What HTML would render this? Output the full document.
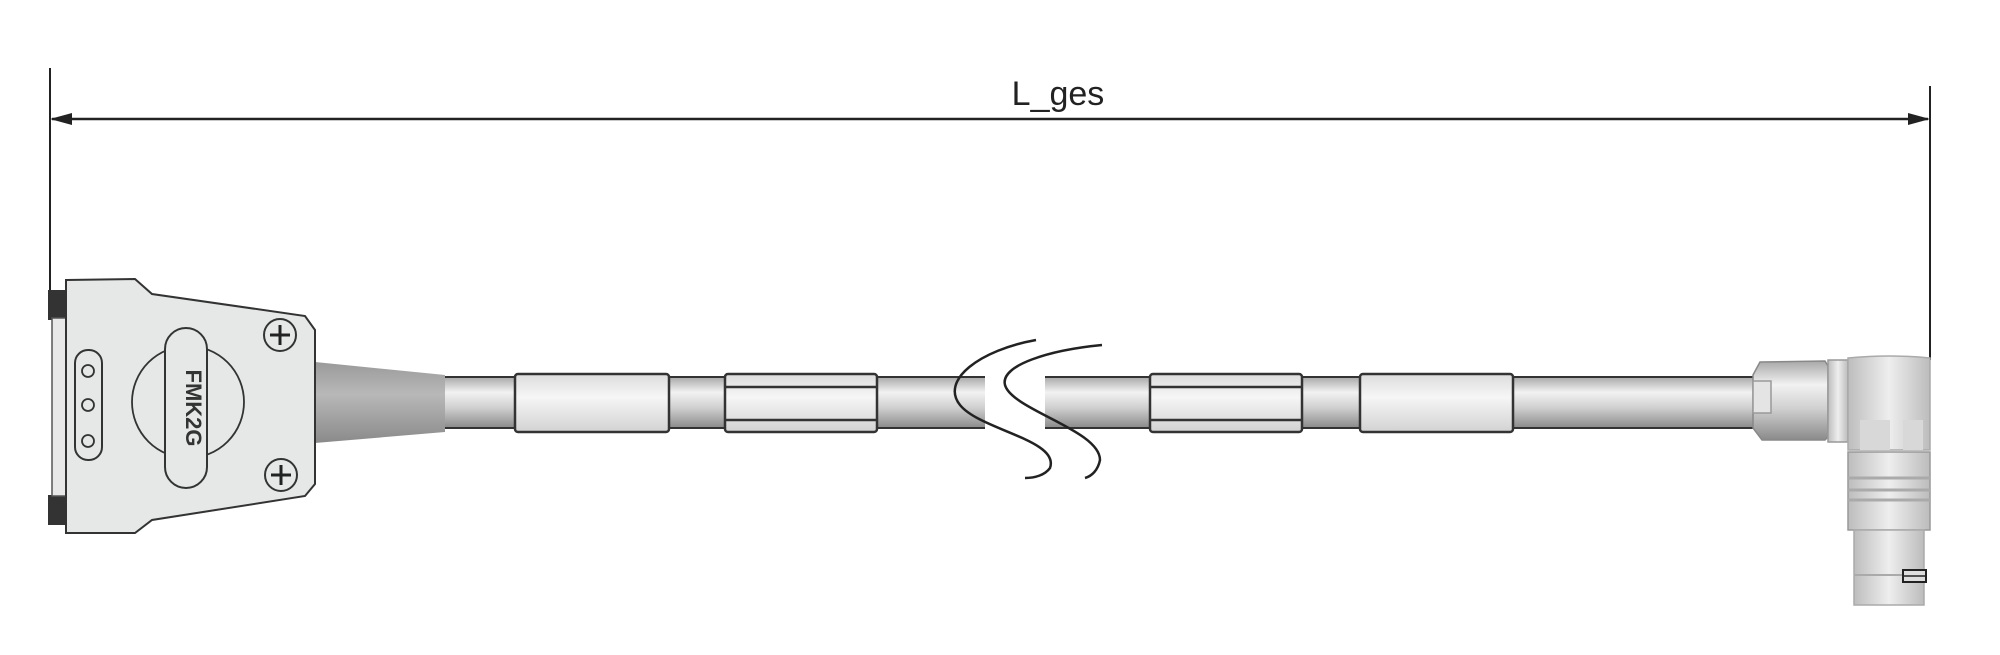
<!DOCTYPE html>
<html><head><meta charset="utf-8"><style>html,body{margin:0;padding:0;background:#fff}svg{display:block}</style></head>
<body>
<svg width="2000" height="655" viewBox="0 0 2000 655" xmlns="http://www.w3.org/2000/svg">
<defs>
<linearGradient id="cab" x1="0" y1="0" x2="0" y2="1">
<stop offset="0" stop-color="#a8a8a8"/><stop offset="0.3" stop-color="#f2f2f2"/><stop offset="0.6" stop-color="#d0d0d0"/><stop offset="1" stop-color="#8a8a8a"/>
</linearGradient>
<linearGradient id="slv" x1="0" y1="0" x2="0" y2="1">
<stop offset="0" stop-color="#dcdcdc"/><stop offset="0.4" stop-color="#f6f6f6"/><stop offset="1" stop-color="#d2d2d2"/>
</linearGradient>
<linearGradient id="sr" x1="0" y1="0" x2="0" y2="1">
<stop offset="0" stop-color="#9a9a9a"/><stop offset="0.4" stop-color="#b8b8b8"/><stop offset="1" stop-color="#8a8a8a"/>
</linearGradient>
<linearGradient id="met" x1="0" y1="0" x2="1" y2="0">
<stop offset="0" stop-color="#bdbdbd"/><stop offset="0.5" stop-color="#eeeeee"/><stop offset="1" stop-color="#bcbcbc"/>
</linearGradient>
</defs>
<!-- dimension -->
<line x1="50" y1="68" x2="50" y2="290" stroke="#222" stroke-width="2"/>
<line x1="1930" y1="86" x2="1930" y2="360" stroke="#222" stroke-width="2"/>
<line x1="52" y1="119" x2="1928" y2="119" stroke="#222" stroke-width="2.5"/>
<polygon points="50,119 72,113 72,125" fill="#222"/>
<polygon points="1930,119 1908,113 1908,125" fill="#222"/>
<text x="1058" y="105" font-family="Liberation Sans, sans-serif" font-size="34" text-anchor="middle" fill="#222">L_ges</text>
<!-- cable -->
<rect x="440" y="377" width="1315" height="51" fill="url(#cab)" stroke="#333" stroke-width="2"/>
<!-- break -->
<rect x="985" y="372" width="60" height="60" fill="#fff"/>
<path d="M1036,340 C980,350 940,380 960,405 C980,430 1060,440 1050,468 C1045,475 1035,478 1025,478" fill="none" stroke="#222" stroke-width="2.5"/>
<path d="M1102,345 C1050,350 1000,365 1005,385 C1012,410 1100,430 1100,460 C1098,470 1092,476 1085,478" fill="none" stroke="#222" stroke-width="2.5"/>
<!-- sleeves -->
<rect x="515" y="374" width="154" height="58" rx="3" fill="url(#slv)" stroke="#333" stroke-width="2.5"/>
<rect x="725" y="374" width="152" height="58" rx="3" fill="url(#slv)" stroke="#333" stroke-width="2.5"/>
<line x1="725" y1="387" x2="877" y2="387" stroke="#333" stroke-width="2.5"/>
<line x1="725" y1="420" x2="877" y2="420" stroke="#333" stroke-width="2.5"/>
<rect x="1150" y="374" width="152" height="58" rx="3" fill="url(#slv)" stroke="#333" stroke-width="2.5"/>
<line x1="1150" y1="387" x2="1302" y2="387" stroke="#333" stroke-width="2.5"/>
<line x1="1150" y1="420" x2="1302" y2="420" stroke="#333" stroke-width="2.5"/>
<rect x="1360" y="374" width="153" height="58" rx="3" fill="url(#slv)" stroke="#333" stroke-width="2.5"/>
<!-- strain relief -->
<polygon points="315,362 445,375 445,432 315,443" fill="url(#sr)"/>
<!-- left connector -->
<rect x="48" y="290" width="18" height="30" fill="#333"/>
<rect x="48" y="495" width="18" height="30" fill="#333"/>
<rect x="52" y="318" width="14" height="178" fill="#e8e8e8" stroke="#555" stroke-width="1.5"/>
<path d="M66,280 L135,279 L152,294 L305,316 L315,330 L315,484 L305,496 L152,520 L135,533 L66,533 Z" fill="#e6e8e8" stroke="#333" stroke-width="2"/>
<rect x="75" y="350" width="27" height="110" rx="13" fill="none" stroke="#333" stroke-width="2"/>
<circle cx="88" cy="371" r="6" fill="none" stroke="#333" stroke-width="1.8"/>
<circle cx="88" cy="405" r="6" fill="none" stroke="#333" stroke-width="1.8"/>
<circle cx="88" cy="441" r="6" fill="none" stroke="#333" stroke-width="1.8"/>
<circle cx="188" cy="402" r="56" fill="none" stroke="#333" stroke-width="1.8"/>
<rect x="165" y="328" width="42" height="160" rx="21" fill="#e6e8e8" stroke="#333" stroke-width="2"/>
<text x="186" y="408" font-family="Liberation Sans, sans-serif" font-weight="bold" font-size="22" fill="#333" text-anchor="middle" transform="rotate(90 186 408)">FMK2G</text>
<circle cx="280" cy="335" r="16" fill="none" stroke="#333" stroke-width="2"/>
<path d="M280,325 V345 M270,335 H290" stroke="#222" stroke-width="3"/>
<circle cx="281" cy="475" r="16" fill="none" stroke="#333" stroke-width="2"/>
<path d="M281,465 V485 M271,475 H291" stroke="#222" stroke-width="3"/>
<!-- right connector -->
<path d="M1760,362 L1825,361 L1828,366 L1828,437 L1825,440 L1762,440 L1753,428 L1753,375 Z" fill="url(#cab)" stroke="#888" stroke-width="1.5"/>
<rect x="1753" y="381" width="18" height="32" fill="#e4e4e4" stroke="#999" stroke-width="1.5"/>
<rect x="1828" y="360" width="20" height="82" fill="url(#met)" stroke="#999" stroke-width="1.5"/>
<path d="M1848,358 Q1890,354 1930,358 L1930,450 L1848,450 Z" fill="url(#met)" stroke="#aaa" stroke-width="1.5"/>
<rect x="1860" y="420" width="30" height="30" fill="#d8d8d8"/>
<rect x="1903" y="420" width="20" height="30" fill="#d8d8d8"/>
<rect x="1848" y="452" width="82" height="78" fill="url(#met)" stroke="#999" stroke-width="1.5"/>
<line x1="1848" y1="478" x2="1930" y2="478" stroke="#aaa" stroke-width="3"/>
<line x1="1848" y1="490" x2="1930" y2="490" stroke="#aaa" stroke-width="3"/>
<line x1="1848" y1="500" x2="1930" y2="500" stroke="#aaa" stroke-width="3"/>
<rect x="1854" y="530" width="70" height="75" fill="url(#met)" stroke="#aaa" stroke-width="1.5"/>
<line x1="1854" y1="575" x2="1924" y2="575" stroke="#aaa" stroke-width="2"/>
<rect x="1903" y="570" width="23" height="12" fill="#ddd" stroke="#222" stroke-width="2"/>
<line x1="1903" y1="576" x2="1926" y2="576" stroke="#222" stroke-width="1.5"/>
</svg>
</body></html>
